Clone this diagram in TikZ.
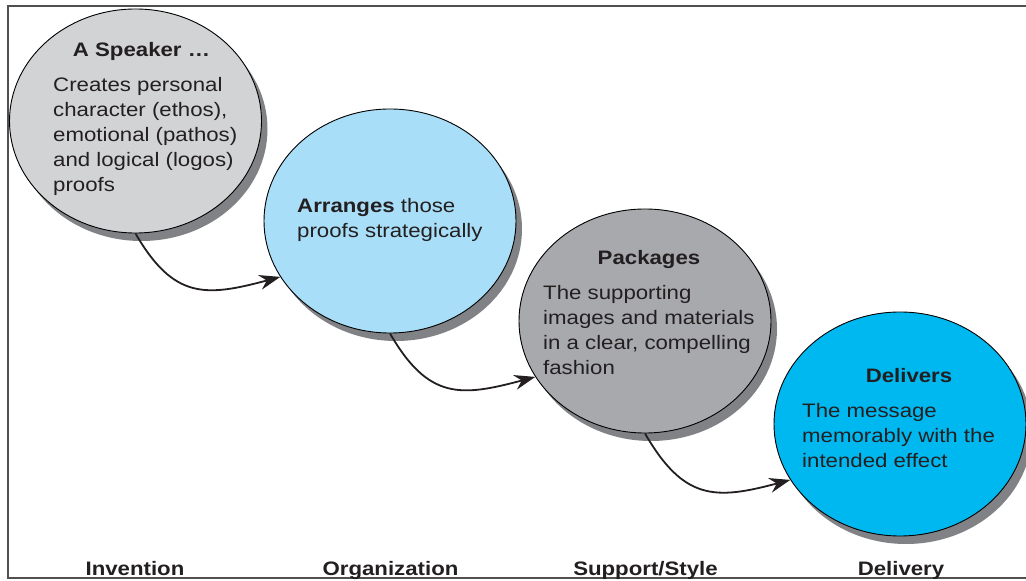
\documentclass[tikz,border=0pt]{standalone}
\usepackage{fontspec}
\setmainfont{Liberation Sans}[FakeStretch=1.14]
\usetikzlibrary{shapes.geometric,shadows,arrows.meta}
\definecolor{fillA}{HTML}{D1D3D4}
\definecolor{fillB}{HTML}{A8DEF8}
\definecolor{fillC}{HTML}{A7A9AC}
\definecolor{fillD}{HTML}{00B8F0}
\definecolor{shadowgray}{HTML}{808285}
\definecolor{ink}{HTML}{231F20}
\definecolor{framegray}{HTML}{505050}
\newcommand\txtstack[1]{\vtop{\baselineskip=25pt\lineskiplimit=-30pt\lineskip=0pt #1}}
\begin{document}
\begin{tikzpicture}[x=1pt,y=1pt,
  bubble/.style={ellipse, draw=black, line width=0.9pt, minimum width=252pt, minimum height=224pt, inner sep=0pt,
    drop shadow={shadow xshift=6pt, shadow yshift=-8pt, fill=shadowgray, opacity=1, draw=none}},
  flow/.style={draw=ink, line width=1.8pt, -{Stealth[length=21pt,width=15pt,inset=7pt]}, out=-60, in=195, looseness=1.3},
  txt/.style={anchor=base west, inner sep=0pt, text=ink, font=\fontsize{19.5}{25}\selectfont},
  head/.style={anchor=base, inner sep=0pt, text=ink, font=\fontsize{19.5}{25}\selectfont\bfseries}]
\useasboundingbox (0,0) rectangle (1026,581);
\fill[white] (0,0) rectangle (1026,581);
\draw[framegray, line width=1.4pt] (1040,575) -- (8,575) -- (8,3) -- (1040,3);

\node[bubble, fill=fillA] (E1) at (135.5,460) {};
\node[bubble, fill=fillB] (E2) at (390,360) {};
\node[bubble, fill=fillC] (E3) at (645,260) {};
\node[bubble, fill=fillD] (E4) at (900,157) {};

\draw[flow] (E1.south) to (E2.207);
\draw[flow] (E2.south) to (E3.207);
\draw[flow] (E3.south) to (E4.207);

\node[head] (h1) at (141.5,524) {A Speaker …};
\node[txt] (b1) at (53,489) {\txtstack{\hbox{Creates personal}\hbox{character (ethos),}\hbox{emotional (pathos)}\hbox{and logical (logos)}\hbox{proofs}}};

\node[txt] (b2) at (297,368) {\txtstack{\hbox{\textbf{Arranges} those}\hbox{proofs strategically}}};

\node[head] (h3) at (649,316) {Packages};
\node[txt] (b3) at (543,281) {\txtstack{\hbox{The supporting}\hbox{images and materials}\hbox{in a clear, compelling}\hbox{fashion}}};

\node[head] (h4) at (909,198) {Delivers};
\node[txt] (b4) at (802,163) {\txtstack{\hbox{The message}\hbox{memorably with the}\hbox{intended effect}}};

\node[head] (l1) at (135,5) {Invention};
\node[head] (l2) at (390.5,5) {Organization};
\node[head] (l3) at (645.5,5) {Support/Style};
\node[head] (l4) at (901,5) {Delivery};
\end{tikzpicture}
\end{document}
